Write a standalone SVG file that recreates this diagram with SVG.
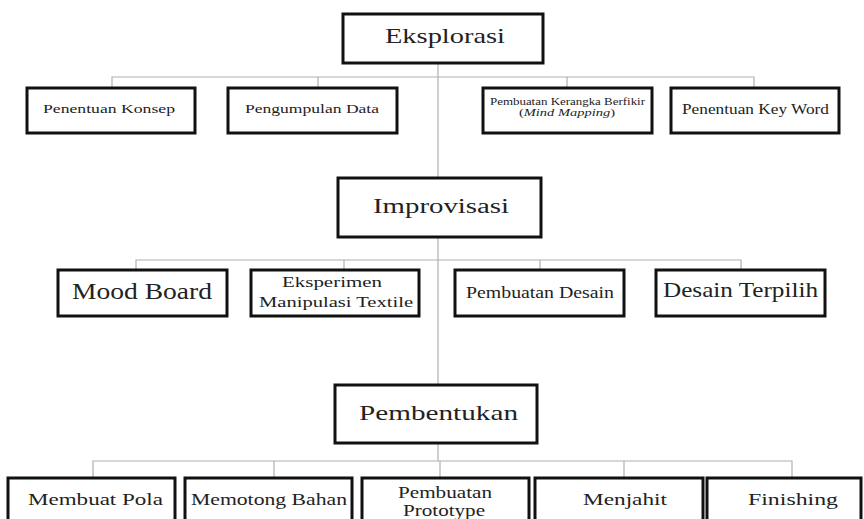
<svg xmlns="http://www.w3.org/2000/svg" width="864" height="519" viewBox="0 0 864 519">
<style>
.box{fill:#fff;stroke:#111;stroke-width:3}
.t{font-family:"Liberation Serif","Times New Roman",serif;fill:#222;text-anchor:start}
.c{fill:none;stroke:#b0b0b0;stroke-width:1.2}
</style>
<rect width="864" height="519" fill="#fff"/>
<g id="connectors">
<path class="c" d="M438 63V178M438 237V385M438 443V461"/>
<path class="c" d="M112 88V77H754V88M318 77V88M567 77V88"/>
<path class="c" d="M136 270V260H741V270M344 260V270M540 260V270"/>
<path class="c" d="M93 478V461H792V478M274 461V478M440 461V478M624 461V478"/>
</g>
<g id="eksplorasi"><rect class="box" x="343" y="14" width="200" height="49"/><text class="t" x="385" y="43" font-size="21" textLength="120" lengthAdjust="spacingAndGlyphs">Eksplorasi</text></g>
<g id="penentuan-konsep"><rect class="box" x="27" y="88" width="168" height="45"/><text class="t" x="43" y="113" font-size="12.5" textLength="132" lengthAdjust="spacingAndGlyphs">Penentuan Konsep</text></g>
<g id="pengumpulan-data"><rect class="box" x="228" y="88" width="169" height="45"/><text class="t" x="245" y="113" font-size="12.5" textLength="134" lengthAdjust="spacingAndGlyphs">Pengumpulan Data</text></g>
<g id="kerangka-berfikir"><rect class="box" x="483" y="88" width="169" height="45"/><text class="t" x="490" y="105" font-size="9.5" textLength="155" lengthAdjust="spacingAndGlyphs">Pembuatan Kerangka Berfikir</text><text class="t" x="519" y="116" font-size="9.5" textLength="96" lengthAdjust="spacingAndGlyphs">(<tspan font-style="italic">Mind Mapping</tspan>)</text></g>
<g id="key-word"><rect class="box" x="671" y="88" width="168" height="45"/><text class="t" x="682" y="114" font-size="15" textLength="147" lengthAdjust="spacingAndGlyphs">Penentuan Key Word</text></g>
<g id="improvisasi"><rect class="box" x="338" y="178" width="203" height="59"/><text class="t" x="373" y="213" font-size="20" textLength="136" lengthAdjust="spacingAndGlyphs">Improvisasi</text></g>
<g id="mood-board"><rect class="box" x="58" y="270" width="169" height="46"/><text class="t" x="72" y="299" font-size="23" textLength="140" lengthAdjust="spacingAndGlyphs">Mood Board</text></g>
<g id="eksperimen"><rect class="box" x="251" y="270" width="168" height="46"/><text class="t" x="282" y="287" font-size="15" textLength="100" lengthAdjust="spacingAndGlyphs">Eksperimen</text><text class="t" x="259" y="307" font-size="15" textLength="154" lengthAdjust="spacingAndGlyphs">Manipulasi Textile</text></g>
<g id="pembuatan-desain"><rect class="box" x="455" y="270" width="169" height="46"/><text class="t" x="466" y="298" font-size="16" textLength="148" lengthAdjust="spacingAndGlyphs">Pembuatan Desain</text></g>
<g id="desain-terpilih"><rect class="box" x="656" y="270" width="169" height="46"/><text class="t" x="663" y="297" font-size="21" textLength="155" lengthAdjust="spacingAndGlyphs">Desain Terpilih</text></g>
<g id="pembentukan"><rect class="box" x="335" y="385" width="202" height="58"/><text class="t" x="359" y="420" font-size="21" textLength="159" lengthAdjust="spacingAndGlyphs">Pembentukan</text></g>
<g id="membuat-pola"><rect class="box" x="8" y="478" width="167" height="60" stroke-width="4"/><text class="t" x="28" y="505" font-size="17" textLength="135" lengthAdjust="spacingAndGlyphs">Membuat Pola</text></g>
<g id="memotong-bahan"><rect class="box" x="185" y="478" width="167" height="60" stroke-width="4"/><text class="t" x="191" y="505" font-size="17" textLength="156" lengthAdjust="spacingAndGlyphs">Memotong Bahan</text></g>
<g id="prototype"><rect class="box" x="362" y="478" width="167" height="60" stroke-width="4"/><text class="t" x="398" y="498" font-size="16" textLength="94" lengthAdjust="spacingAndGlyphs">Pembuatan</text><text class="t" x="403" y="516" font-size="16" textLength="82" lengthAdjust="spacingAndGlyphs">Prototype</text></g>
<g id="menjahit"><rect class="box" x="535" y="478" width="168" height="60" stroke-width="4"/><text class="t" x="583" y="505" font-size="17" textLength="84" lengthAdjust="spacingAndGlyphs">Menjahit</text></g>
<g id="finishing"><rect class="box" x="707" y="478" width="154" height="60" stroke-width="4"/><text class="t" x="748" y="505" font-size="17" textLength="90" lengthAdjust="spacingAndGlyphs">Finishing</text></g>
</svg>
